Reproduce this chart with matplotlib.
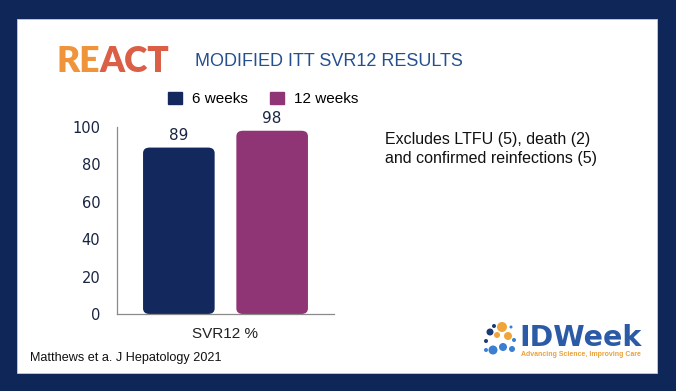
import matplotlib
matplotlib.use("Agg")
import matplotlib.pyplot as plt
from matplotlib.patches import FancyBboxPatch, Rectangle, Circle

# data
groups = ["6 weeks", "12 weeks"]
values = [89, 98]
colors = ["#13295e", "#8f3575"]
category = "SVR12 %"
yticks = [0, 20, 40, 60, 80, 100]
note_lines = ["Excludes LTFU (5), death (2)", "and confirmed reinfections (5)"]

W, H = 676, 391
plt.rcParams["font.family"] = ["Liberation Sans", "DejaVu Sans"]
fig = plt.figure(figsize=(W / 100, H / 100), dpi=100)
fig.patch.set_facecolor("#0f2659")

# background axes in pixel units (y down)
bg = fig.add_axes([0, 0, 1, 1], zorder=-1)
bg.set_xlim(0, W)
bg.set_ylim(H, 0)
bg.axis("off")
bg.add_patch(Rectangle((17, 19), 640, 354, facecolor="white",
                       edgecolor="#c8ccd6", lw=0.6))

def fx(px):
    return px / W

def fy(py):
    return 1 - py / H

# header
r = fig.canvas.get_renderer()
t1 = fig.text(fx(56), fy(61), "RE", fontsize=25.5, fontweight="heavy", family="Lato",
              color="#ef943b", va="center", ha="left")
ext = t1.get_window_extent(renderer=r)
fig.text(ext.x1 / W, fy(61), "ACT", fontsize=25.5, fontweight="heavy", family="Lato",
         color="#db5f46", va="center", ha="left")
fig.text(fx(195), fy(61), "MODIFIED ITT SVR12 RESULTS", fontsize=13,
         color="#24508f", va="center", ha="left")

# bar chart
ax = fig.add_axes([fx(117), fy(314), 217 / W, 187 / H])
offsets = [-0.43, 0.43]
bars = ax.bar(offsets, values, width=0.66, color=colors)
for b, c in zip(bars, colors):
    b.set_visible(False)
    ax.add_patch(FancyBboxPatch((b.get_x(), b.get_y()), b.get_width(), b.get_height(),
                                boxstyle="round,pad=0,rounding_size=0.06",
                                mutation_aspect=50, facecolor=c, edgecolor="none"))
for b, v in zip(bars, values):
    ax.text(b.get_x() + b.get_width() / 2, v + 2.5, str(v), ha="center",
            va="bottom", fontsize=11, family="DejaVu Sans", color="#1a2442")
ax.set_xlim(-1, 1)
ax.set_ylim(0, 100)
ax.set_yticks(yticks)
ax.set_yticklabels([str(t) for t in yticks], family="DejaVu Sans", fontsize=10.5,
                   color="#1a2442")
ax.set_xticks([0])
ax.set_xticklabels([category], fontsize=11, color="#222222")
ax.tick_params(axis="both", length=0)
ax.tick_params(axis="y", pad=12)
ax.tick_params(axis="x", pad=9)
for s in ["top", "right"]:
    ax.spines[s].set_visible(False)
for s in ["left", "bottom"]:
    ax.spines[s].set_color("#8a8a8a")
    ax.spines[s].set_linewidth(0.9)
ax.set_facecolor("none")

# legend
handles = [Rectangle((0, 0), 1, 1, color=c) for c in colors]
fig.legend(handles, groups, loc="center", bbox_to_anchor=(fx(263), fy(99)),
           ncol=2, frameon=False, fontsize=11, handlelength=0.9,
           handleheight=0.9, handletextpad=0.65, columnspacing=1.45)

# note
for i, line in enumerate(note_lines):
    fig.text(fx(385), fy(140 + i * 19), line, fontsize=11.5, color="#111111",
             va="center", ha="left")

fig.text(fx(30), fy(358), "Matthews et a. J Hepatology 2021", fontsize=9.1,
         color="#111111", va="center", ha="left")

# IDWeek logo
dots = [(502, 327, 5, "#f0a53a"), (508, 336, 4, "#f0a53a"), (497, 335, 3, "#f0a53a"),
        (490, 332, 3.5, "#1d3a78"), (494, 326, 2, "#1d3a78"), (486, 341, 2, "#1d3a78"),
        (493, 350, 4.5, "#3a7fd0"), (503, 347, 4, "#3a7fd0"), (512, 349, 3, "#3a7fd0"),
        (514, 340, 2, "#3a7fd0"), (486, 350, 2, "#3a7fd0"), (511, 327, 1.5, "#3a7fd0")]
for x, y, rad, c in dots:
    bg.add_patch(Circle((x, y), rad, facecolor=c, edgecolor="none"))
fig.text(fx(519), fy(338), "IDWeek", fontsize=20.5, fontweight="bold", family="DejaVu Sans",
         color="#2b5ba7", va="center", ha="left")
fig.text(fx(521), fy(354), "Advancing Science, Improving Care", fontsize=5,
         fontweight="bold", color="#e9a23b", va="center", ha="left")

fig.savefig("out.png", dpi=100)
